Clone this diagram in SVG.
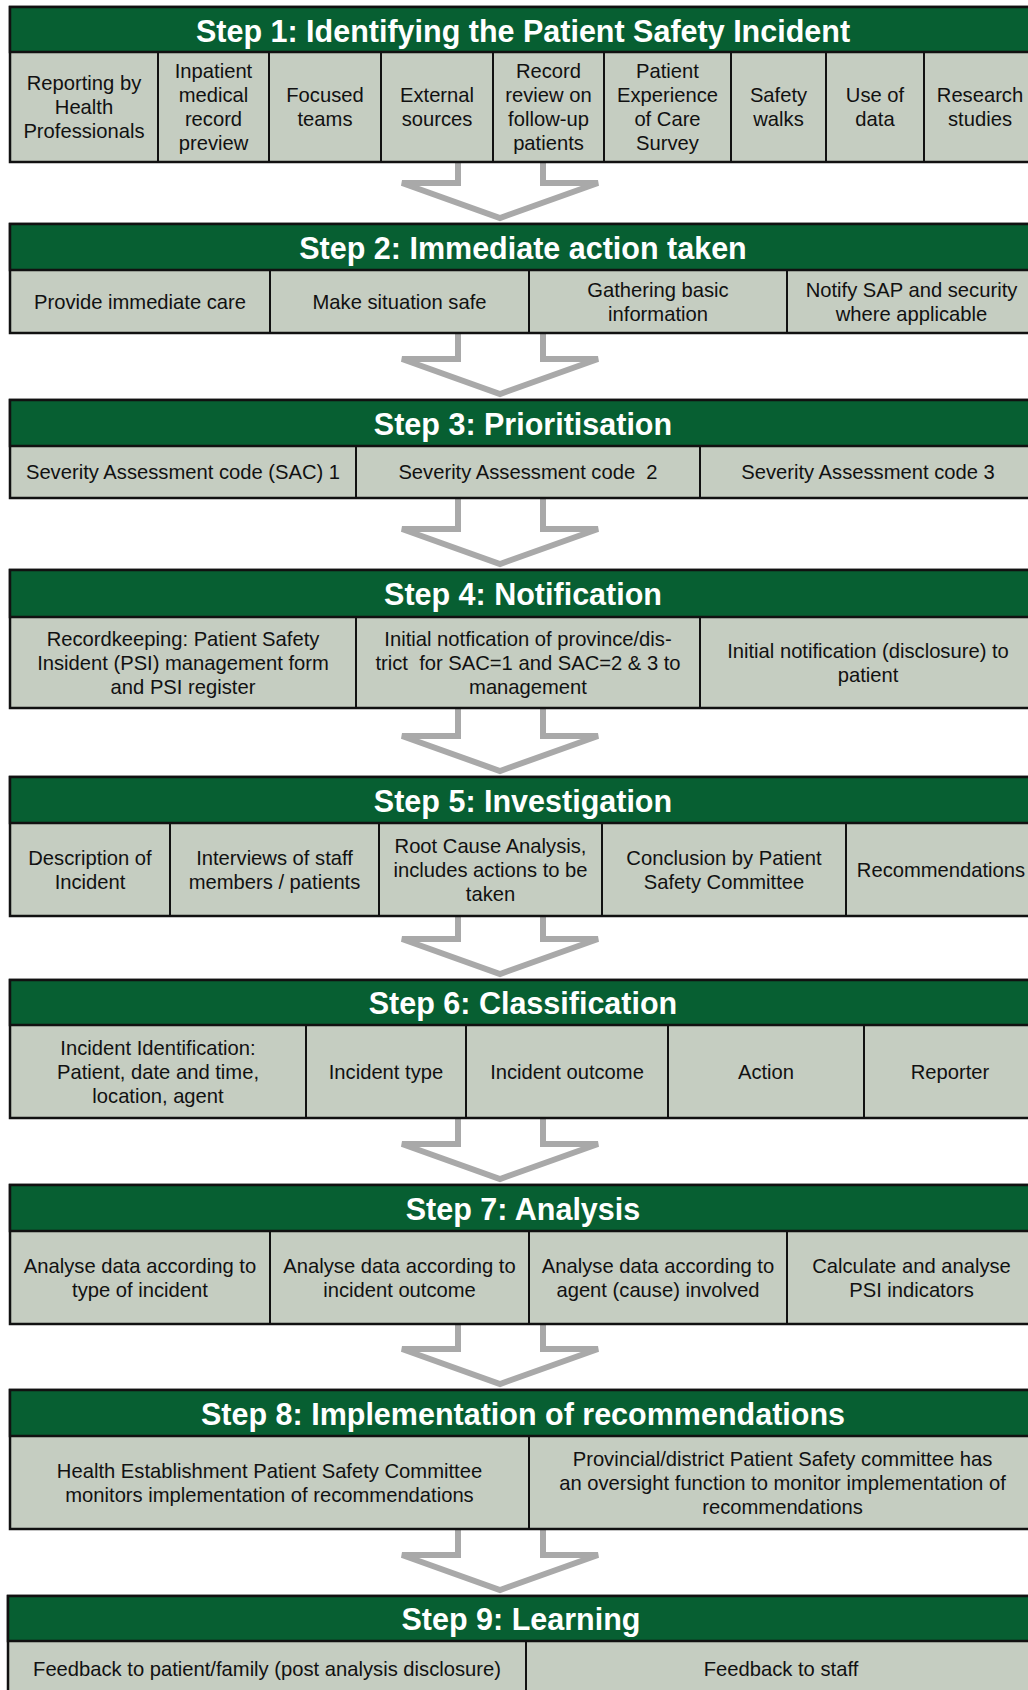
<svg xmlns="http://www.w3.org/2000/svg" width="1028" height="1690" viewBox="0 0 1028 1690">
<style>
.box{fill:#c5cdc1;stroke:#111;stroke-width:2.5}
.hd{fill:#075f32;stroke:#111;stroke-width:2.5}
.div{stroke:#111;stroke-width:2}
.ht{font-family:"Liberation Sans",Arial,sans-serif;font-weight:bold;font-size:30.5px;fill:#fff;text-anchor:middle}
.ct{font-family:"Liberation Sans",Arial,sans-serif;font-size:20.2px;fill:#111;text-anchor:middle;white-space:pre}
.arr{fill:none;stroke:#a9a9a9;stroke-width:6;stroke-linejoin:miter}
</style>
<rect width="1028" height="1690" fill="#fff"/>
<g id="connectors">
<path class="arr" d="M458 162V183H402L500 218L598 183H543V162"/>
<path class="arr" d="M458 333V359H402L500 394L598 359H543V333"/>
<path class="arr" d="M458 498V529H402L500 564L598 529H543V498"/>
<path class="arr" d="M458 708V736H402L500 771L598 736H543V708"/>
<path class="arr" d="M458 916V939H402L500 974L598 939H543V916"/>
<path class="arr" d="M458 1118V1144H402L500 1179L598 1144H543V1118"/>
<path class="arr" d="M458 1324V1349H402L500 1384L598 1349H543V1324"/>
<path class="arr" d="M458 1529V1555H402L500 1590L598 1555H543V1529"/>
</g>
<g id="step1">
<rect class="box" x="10" y="7" width="1026" height="155"/>
<rect class="hd" x="10" y="7" width="1026" height="45"/>
<text class="ht" x="523" y="41.5">Step 1: Identifying the Patient Safety Incident</text>
<path class="div" d="M158 52V162M269 52V162M381 52V162M493 52V162M604 52V162M731 52V162M826 52V162M924 52V162"/>
<text class="ct" x="84" y="90">Reporting by</text><text class="ct" x="84" y="114">Health</text><text class="ct" x="84" y="138">Professionals</text>
<text class="ct" x="213.5" y="78">Inpatient</text><text class="ct" x="213.5" y="102">medical</text><text class="ct" x="213.5" y="126">record</text><text class="ct" x="213.5" y="150">preview</text>
<text class="ct" x="325" y="102">Focused</text><text class="ct" x="325" y="126">teams</text>
<text class="ct" x="437" y="102">External</text><text class="ct" x="437" y="126">sources</text>
<text class="ct" x="548.5" y="78">Record</text><text class="ct" x="548.5" y="102">review on</text><text class="ct" x="548.5" y="126">follow-up</text><text class="ct" x="548.5" y="150">patients</text>
<text class="ct" x="667.5" y="78">Patient</text><text class="ct" x="667.5" y="102">Experience</text><text class="ct" x="667.5" y="126">of Care</text><text class="ct" x="667.5" y="150">Survey</text>
<text class="ct" x="778.5" y="102">Safety</text><text class="ct" x="778.5" y="126">walks</text>
<text class="ct" x="875" y="102">Use of</text><text class="ct" x="875" y="126">data</text>
<text class="ct" x="980" y="102">Research</text><text class="ct" x="980" y="126">studies</text>
</g>
<g id="step2">
<rect class="box" x="10" y="224" width="1026" height="109"/>
<rect class="hd" x="10" y="224" width="1026" height="46"/>
<text class="ht" x="523" y="258.5">Step 2: Immediate action taken</text>
<path class="div" d="M270 270V333M529 270V333M787 270V333"/>
<text class="ct" x="140" y="308.5">Provide immediate care</text>
<text class="ct" x="399.5" y="308.5">Make situation safe</text>
<text class="ct" x="658" y="296.5">Gathering basic</text><text class="ct" x="658" y="320.5">information</text>
<text class="ct" x="911.5" y="296.5">Notify SAP and security</text><text class="ct" x="911.5" y="320.5">where applicable</text>
</g>
<g id="step3">
<rect class="box" x="10" y="400" width="1026" height="98"/>
<rect class="hd" x="10" y="400" width="1026" height="46"/>
<text class="ht" x="523" y="434.5">Step 3: Prioritisation</text>
<path class="div" d="M356 446V498M700 446V498"/>
<text class="ct" x="183" y="479">Severity Assessment code (SAC) 1</text>
<text class="ct" x="528" y="479">Severity Assessment code  2</text>
<text class="ct" x="868" y="479">Severity Assessment code 3</text>
</g>
<g id="step4">
<rect class="box" x="10" y="570" width="1026" height="138"/>
<rect class="hd" x="10" y="570" width="1026" height="47"/>
<text class="ht" x="523" y="605">Step 4: Notification</text>
<path class="div" d="M356 617V708M700 617V708"/>
<text class="ct" x="183" y="645.5">Recordkeeping: Patient Safety</text><text class="ct" x="183" y="669.5">Insident (PSI) management form</text><text class="ct" x="183" y="693.5">and PSI register</text>
<text class="ct" x="528" y="645.5">Initial notfication of province/dis-</text><text class="ct" x="528" y="669.5">trict  for SAC=1 and SAC=2 &amp; 3 to</text><text class="ct" x="528" y="693.5">management</text>
<text class="ct" x="868" y="657.5">Initial notification (disclosure) to</text><text class="ct" x="868" y="681.5">patient</text>
</g>
<g id="step5">
<rect class="box" x="10" y="777" width="1026" height="139"/>
<rect class="hd" x="10" y="777" width="1026" height="46"/>
<text class="ht" x="523" y="811.5">Step 5: Investigation</text>
<path class="div" d="M170 823V916M379 823V916M602 823V916M846 823V916"/>
<text class="ct" x="90" y="864.5">Description of</text><text class="ct" x="90" y="888.5">Incident</text>
<text class="ct" x="274.5" y="864.5">Interviews of staff</text><text class="ct" x="274.5" y="888.5">members / patients</text>
<text class="ct" x="490.5" y="852.5">Root Cause Analysis,</text><text class="ct" x="490.5" y="876.5">includes actions to be</text><text class="ct" x="490.5" y="900.5">taken</text>
<text class="ct" x="724" y="864.5">Conclusion by Patient</text><text class="ct" x="724" y="888.5">Safety Committee</text>
<text class="ct" x="941" y="876.5">Recommendations</text>
</g>
<g id="step6">
<rect class="box" x="10" y="980" width="1026" height="138"/>
<rect class="hd" x="10" y="980" width="1026" height="45"/>
<text class="ht" x="523" y="1014">Step 6: Classification</text>
<path class="div" d="M306 1025V1118M466 1025V1118M668 1025V1118M864 1025V1118"/>
<text class="ct" x="158" y="1054.5">Incident Identification:</text><text class="ct" x="158" y="1078.5">Patient, date and time,</text><text class="ct" x="158" y="1102.5">location, agent</text>
<text class="ct" x="386" y="1078.5">Incident type</text>
<text class="ct" x="567" y="1078.5">Incident outcome</text>
<text class="ct" x="766" y="1078.5">Action</text>
<text class="ct" x="950" y="1078.5">Reporter</text>
</g>
<g id="step7">
<rect class="box" x="10" y="1185" width="1026" height="139"/>
<rect class="hd" x="10" y="1185" width="1026" height="46"/>
<text class="ht" x="523" y="1219.5">Step 7: Analysis</text>
<path class="div" d="M270 1231V1324M529 1231V1324M787 1231V1324"/>
<text class="ct" x="140" y="1272.5">Analyse data according to</text><text class="ct" x="140" y="1296.5">type of incident</text>
<text class="ct" x="399.5" y="1272.5">Analyse data according to</text><text class="ct" x="399.5" y="1296.5">incident outcome</text>
<text class="ct" x="658" y="1272.5">Analyse data according to</text><text class="ct" x="658" y="1296.5">agent (cause) involved</text>
<text class="ct" x="911.5" y="1272.5">Calculate and analyse</text><text class="ct" x="911.5" y="1296.5">PSI indicators</text>
</g>
<g id="step8">
<rect class="box" x="10" y="1390" width="1026" height="139"/>
<rect class="hd" x="10" y="1390" width="1026" height="46"/>
<text class="ht" x="523" y="1424.5">Step 8: Implementation of recommendations</text>
<path class="div" d="M529 1436V1529"/>
<text class="ct" x="269.5" y="1477.5">Health Establishment Patient Safety Committee</text><text class="ct" x="269.5" y="1501.5">monitors implementation of recommendations</text>
<text class="ct" x="782.5" y="1465.5">Provincial/district Patient Safety committee has</text><text class="ct" x="782.5" y="1489.5">an oversight function to monitor implementation of</text><text class="ct" x="782.5" y="1513.5">recommendations</text>
</g>
<g id="step9">
<rect class="box" x="8" y="1596" width="1028" height="110"/>
<rect class="hd" x="8" y="1596" width="1028" height="45"/>
<text class="ht" x="521" y="1630">Step 9: Learning</text>
<path class="div" d="M526 1641V1700"/>
<text class="ct" x="267" y="1676">Feedback to patient/family (post analysis disclosure)</text>
<text class="ct" x="781" y="1676">Feedback to staff</text>
</g>
</svg>
